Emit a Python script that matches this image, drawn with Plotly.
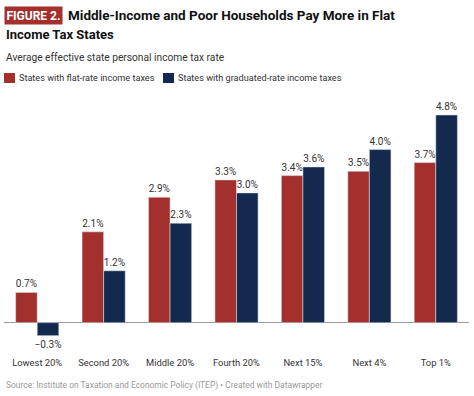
import plotly.graph_objects as go

categories = ["Lowest 20%", "Second 20%", "Middle 20%", "Fourth 20%", "Next 15%", "Next 4%", "Top 1%"]
flat_rate = [0.7, 2.1, 2.9, 3.3, 3.4, 3.5, 3.7]
graduated_rate = [-0.3, 1.2, 2.3, 3.0, 3.6, 4.0, 4.8]
series_names = ["States with flat-rate income taxes", "States with graduated-rate income taxes"]

RED = "#A3302D"
NAVY = "#13294D"
FONT = "Roboto"

W, H = 474, 396
ML, MR, MT, MB = 4, 5, 100, 50
PW, PH = W - ML - MR, H - MT - MB


def px_x(px):
    return (px - ML) / PW


def px_y(py):
    return (H - MB - py) / PH


def fmt(v):
    return f"{v:.1f}%".replace("-", "\u2212")


colors = [RED, NAVY]
fig = go.Figure()
for name, vals, col in zip(series_names, [flat_rate, graduated_rate], colors):
    fig.add_trace(go.Bar(
        x=categories, y=vals, name=name, marker_color=col,
        text=[fmt(v) for v in vals], textposition="outside", constraintext="none",
        textfont=dict(family=FONT, size=10, color="#333333"),
        cliponaxis=False, showlegend=False,
    ))

# baseline at pixel 322.7, 43.27 px per percentage point
scale = 43.27
base_px = 322.7
r1 = (base_px - MT) / scale
r0 = -(H - MB - base_px) / scale

fig.update_layout(
    width=W, height=H,
    margin=dict(l=ML, r=MR, t=MT, b=MB, autoexpand=False),
    paper_bgcolor="white", plot_bgcolor="white",
    barmode="group", bargap=0.35, bargroupgap=0,
    font=dict(family=FONT, color="#333333"),
    xaxis=dict(showgrid=False, showline=False, ticks="", ticklabelstandoff=10,
               tickfont=dict(family=FONT, size=9.4, color="#333333")),
    yaxis=dict(range=[r0, r1], showgrid=False, showticklabels=False,
               zeroline=True, zerolinecolor="#999999", zerolinewidth=1),
)

# custom legend
legend_items = [(4, 18), (163, 177)]
for (sq_x, tx_x), name, col in zip(legend_items, series_names, colors):
    fig.add_shape(type="rect", xref="paper", yref="paper",
                  x0=px_x(sq_x), x1=px_x(sq_x + 11), y0=px_y(83), y1=px_y(73),
                  fillcolor=col, line=dict(width=0))
    fig.add_annotation(xref="paper", yref="paper", x=px_x(tx_x), xanchor="left", y=px_y(78), yanchor="middle",
                       text=name, showarrow=False, borderpad=0,
                       font=dict(family=FONT, size=9.15, color="#333333"))

fig.add_annotation(xref="paper", yref="paper", x=px_x(4), xanchor="left", y=px_y(15), yanchor="middle",
                   text="<b>FIGURE 2.</b>", showarrow=False, bgcolor=RED,
                   font=dict(family=FONT, size=12, color="white"), borderpad=1.5)
fig.add_annotation(xref="paper", yref="paper", x=px_x(66), xanchor="left", y=px_y(15), yanchor="middle",
                   text="<b>Middle-Income and Poor Households Pay More in Flat</b>", showarrow=False,
                   font=dict(family=FONT, size=13.5, color="#111111"))
fig.add_annotation(xref="paper", yref="paper", x=px_x(4), xanchor="left", y=px_y(34), yanchor="middle",
                   text="<b>Income Tax States</b>", showarrow=False,
                   font=dict(family=FONT, size=13.0, color="#111111"))
fig.add_annotation(xref="paper", yref="paper", x=px_x(4), xanchor="left", y=px_y(57), yanchor="middle",
                   text="Average effective state personal income tax rate", showarrow=False,
                   font=dict(family=FONT, size=10.2, color="#333333"))
fig.add_annotation(xref="paper", yref="paper", x=px_x(4), xanchor="left", y=px_y(385), yanchor="middle",
                   text="Source: Institute on Taxation and Economic Policy (ITEP) \u2022 Created with Datawrapper",
                   showarrow=False, font=dict(family=FONT, size=8.45, color="#999999"))

fig.write_html("out.html", config={"displayModeBar": False},
               post_script="document.body.style.margin='0';")
